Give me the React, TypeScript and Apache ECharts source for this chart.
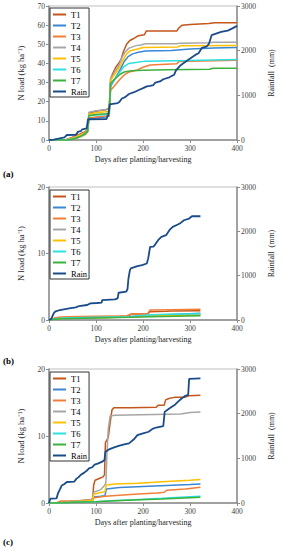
import React, { useEffect, useRef } from "react";
import * as echarts from "echarts";

const NAMES = ["T1", "T2", "T3", "T4", "T5", "T6", "T7", "Rain"];
const COLORS = ["#C4561A", "#3A87D4", "#F07F3A", "#A6A6A6", "#FFC000", "#2EE0E0", "#3CB13C", "#1B4C8A"];
const PANEL_LABELS = ["(a)", "(b)", "(c)"];
const LEFT_MAX = [70, 20, 20];

// Panel (a)
const A_T1 = [[0,0],[35,0],[50,1.5],[65,3],[78,4.5],[82,6],[85,14],[100,15],[120,15.8],[128,16.5],[131,32],[136,35],[142,38],[148,40],[153,42],[158,46],[165,50],[172,52],[180,53],[190,54.5],[203,55],[207,57],[272,57],[276,58.5],[283,60],[300,60.3],[340,60.8],[352,61.2],[400,61.3]];
const A_T2 = [[0,0],[40,0],[55,0.8],[68,2],[78,3.5],[82,4.5],[85,11],[100,11.5],[120,12],[128,12.5],[131,28],[138,31],[145,34],[152,37],[160,41],[168,43.5],[178,45],[190,45.8],[205,46.5],[260,46.8],[300,47.5],[350,48],[400,48.3]];
const A_T3 = [[0,0],[42,0],[55,0.5],[68,1.8],[78,3],[82,4],[85,11.5],[100,12],[120,12.5],[128,13],[131,26],[138,28],[145,30],[152,32],[160,34],[170,35.5],[188,36.6],[200,38],[215,39.2],[272,39.8],[276,41],[350,41.4],[400,41.6]];
const A_T4 = [[0,0],[35,0],[50,1.2],[65,2.5],[78,4],[82,5.5],[85,14.5],[100,15.3],[120,15.8],[128,16.3],[131,32],[136,34],[142,36.5],[148,38.5],[155,43],[162,46],[170,48],[185,49.3],[195,49.6],[205,50.3],[272,50.3],[278,50.6],[340,50.8],[350,51.1],[400,51.1]];
const A_T5 = [[0,0],[38,0],[52,1],[65,2.5],[78,3.8],[82,5],[85,13.5],[100,14.2],[120,14.8],[128,15.2],[131,31],[136,33],[142,35],[150,38],[158,42],[165,45],[172,46.5],[188,47.5],[200,48.3],[274,48.6],[278,49.2],[400,49.4]];
const A_T6 = [[0,0],[40,0],[55,0.8],[68,2],[78,3.5],[82,4.5],[85,12.5],[100,13],[120,13.3],[128,13.8],[131,29],[138,31],[145,33.5],[152,36],[160,38.5],[170,40],[188,40.6],[205,41.2],[300,41.5],[350,41.8],[400,42]];
const A_T7 = [[0,0],[40,0],[55,0.8],[68,2],[78,3.5],[82,4.5],[85,12.8],[100,13.3],[120,13.7],[128,14],[131,29.5],[138,31.5],[145,33],[152,34.5],[160,35.5],[175,36.2],[200,36.5],[250,36.7],[342,37],[348,37.5],[400,37.5]];
const A_RAIN = [[0,0],[10,10],[20,30],[33,60],[38,112],[57,115],[62,187],[68,200],[71,240],[80,258],[83,465],[122,470],[126,560],[129,800],[146,826],[150,858],[155,930],[162,960],[170,1030],[181,1070],[191,1119],[200,1160],[208,1200],[215,1213],[222,1231],[226,1285],[236,1310],[243,1360],[256,1403],[266,1460],[270,1560],[280,1675],[291,1757],[301,1830],[311,1905],[318,1943],[325,2060],[335,2089],[340,2150],[346,2350],[366,2420],[380,2450],[390,2500],[400,2555]];

// Panel (b)
const B_T1 = [[0,0],[10,0.2],[20,0.35],[40,0.45],[100,0.5],[150,0.55],[170,0.6],[175,0.9],[210,0.95],[215,1.25],[250,1.3],[260,1.35],[322,1.4]];
const B_T2 = [[0,0],[10,0.15],[30,0.3],[100,0.4],[170,0.5],[210,0.7],[250,0.8],[322,1.0]];
const B_T3 = [[0,0],[10,0.25],[20,0.4],[40,0.5],[100,0.55],[165,0.6],[172,0.85],[210,0.95],[215,1.5],[260,1.55],[322,1.6]];
const B_T4 = [[0,0],[10,0.1],[30,0.25],[100,0.35],[170,0.45],[215,0.6],[322,0.8]];
const B_T5 = [[0,0],[10,0.1],[30,0.25],[100,0.35],[170,0.45],[215,0.6],[322,0.75]];
const B_T6 = [[0,0],[10,0.15],[30,0.3],[100,0.4],[170,0.5],[210,0.75],[250,0.85],[322,0.95]];
const B_T7 = [[0,0],[10,0.1],[30,0.2],[100,0.3],[170,0.4],[215,0.5],[322,0.65]];
const B_RAIN = [[0,0],[5,30],[10,150],[13,187],[23,225],[43,263],[57,285],[64,315],[81,338],[88,375],[102,383],[112,390],[113,450],[140,465],[146,488],[148,615],[164,638],[167,700],[169,938],[172,1120],[174,1163],[188,1215],[198,1238],[208,1275],[211,1390],[215,1650],[222,1655],[225,1690],[232,1800],[239,1875],[249,1913],[256,2025],[263,2100],[274,2153],[280,2190],[287,2250],[298,2288],[304,2340],[322,2340]];

// Panel (c)
const C_T1 = [[0,0],[20,0],[35,0.2],[60,0.3],[90,0.5],[93,0.7],[95,2.7],[98,3.4],[108,3.7],[115,3.9],[118,4.2],[120,9],[126,9.8],[130,12],[134,13.9],[138,14.2],[173,14.2],[228,14.3],[232,14.6],[245,14.6],[248,15.4],[255,15.6],[269,15.8],[290,15.8],[297,16.0],[322,16.1]];
const C_T2 = [[0,0],[30,0],[50,0.15],[80,0.25],[93,0.35],[95,0.9],[110,1.0],[119,1.1],[122,2.1],[150,2.3],[200,2.45],[250,2.6],[300,2.75],[322,2.85]];
const C_T3 = [[0,0],[15,0],[25,0.3],[60,0.35],[93,0.45],[96,0.8],[120,1.0],[150,1.15],[190,1.35],[230,1.5],[245,1.6],[250,1.9],[290,2.1],[322,2.35]];
const C_T4 = [[0,0],[25,0],[40,0.2],[70,0.3],[92,0.5],[95,1.6],[110,2],[118,2.6],[121,3],[123,7],[126,11],[130,13],[140,13.1],[280,13.3],[300,13.5],[322,13.6]];
const C_T5 = [[0,0],[30,0],[50,0.2],[80,0.3],[93,0.4],[95,1.3],[105,1.5],[119,1.7],[122,2.7],[140,2.85],[190,2.95],[250,3.2],[300,3.4],[322,3.5]];
const C_T6 = [[0,0],[30,0],[50,0.1],[100,0.2],[130,0.35],[180,0.5],[240,0.7],[300,0.95],[322,1.0]];
const C_T7 = [[0,0],[30,0],[50,0.1],[100,0.2],[130,0.3],[180,0.45],[240,0.6],[300,0.8],[322,0.85]];
const C_RAIN = [[0,0],[3,100],[16,103],[19,215],[23,300],[27,390],[32,420],[38,470],[54,480],[58,540],[63,580],[67,625],[75,680],[80,720],[85,775],[92,800],[97,860],[105,886],[112,920],[118,960],[120,1148],[129,1208],[140,1250],[150,1283],[160,1310],[170,1335],[180,1420],[188,1520],[200,1560],[212,1595],[220,1660],[228,1690],[243,1720],[246,2040],[255,2110],[262,2160],[268,2200],[275,2275],[282,2340],[290,2400],[296,2420],[298,2780],[322,2790]];

const PANELS = [
  [A_T1, A_T2, A_T3, A_T4, A_T5, A_T6, A_T7, A_RAIN],
  [B_T1, B_T2, B_T3, B_T4, B_T5, B_T6, B_T7, B_RAIN],
  [C_T1, C_T2, C_T3, C_T4, C_T5, C_T6, C_T7, C_RAIN],
];

const FONT = "Liberation Serif, Times New Roman, serif";
const GRID_TOPS = [6, 187, 369];
const GRID_HEIGHTS = [134, 133, 134];
const LEGEND_TOPS = [8, 190, 372];
const LABEL_TOPS = [169, 356, 537];

export default function App() {
  const ref = useRef<HTMLDivElement>(null);
  useEffect(() => {
    if (!ref.current) return;
    const chart = echarts.init(ref.current, undefined, { renderer: "svg" });
    const axisLine = { show: true, lineStyle: { color: "#8C8C8C", width: 1.5 } };
    const axisLabel = { fontSize: 7.5, color: "#404040", fontFamily: FONT, formatter: (v: number) => String(v) };
    const nameStyle = { fontSize: 8, color: "#262626", fontFamily: FONT };
    const grid: any[] = [];
    const xAxis: any[] = [];
    const yAxis: any[] = [];
    const legend: any[] = [];
    const series: any[] = [];
    const graphic: any[] = [];
    for (let p = 0; p < 3; p++) {
      grid.push({ left: 49, width: 194, top: GRID_TOPS[p], height: GRID_HEIGHTS[p], show: true, borderColor: "#BFBFBF", borderWidth: 1 });
      xAxis.push({
        type: "value", gridIndex: p, min: 0, max: 400, interval: 100,
        axisLine, axisTick: { show: true, inside: false, length: 3, lineStyle: { color: "#8C8C8C" } },
        axisLabel: { ...axisLabel, margin: 4 }, splitLine: { show: false },
        name: "Days after planting/harvesting", nameLocation: "middle", nameGap: 15, nameTextStyle: nameStyle,
      });
      yAxis.push({
        type: "value", gridIndex: p, position: "left", min: 0, max: LEFT_MAX[p], interval: 10,
        axisLine, axisTick: { show: true, length: 3, lineStyle: { color: "#8C8C8C" } },
        axisLabel: { ...axisLabel, margin: 4 }, splitLine: { show: false },
        name: "N load (kg ha⁻¹)", nameLocation: "middle", nameRotate: 90, nameGap: 24, nameTextStyle: { ...nameStyle, fontSize: 8.5 },
      });
      yAxis.push({
        type: "value", gridIndex: p, position: "right", min: 0, max: 3000, interval: 1000,
        axisLine, axisTick: { show: true, length: 3, lineStyle: { color: "#8C8C8C" } },
        axisLabel: { ...axisLabel, margin: 4 }, splitLine: { show: false },
        name: "Rainfall  (mm)", nameLocation: "middle", nameRotate: 90, nameGap: 27, nameTextStyle: nameStyle,
      });
      legend.push({
        orient: "vertical", left: 50, top: LEGEND_TOPS[p], data: NAMES,
        icon: "rect", itemWidth: 13, itemHeight: 2, itemGap: 0,
        padding: [1, 2, 0, 3], borderColor: "#333", borderWidth: 1, backgroundColor: "#fff",
        textStyle: { fontSize: 8.5, lineHeight: 11, color: "#000", fontFamily: FONT },
        selectedMode: false,
      });
      PANELS[p].forEach((data, i) => {
        const isRain = i === 7;
        series.push({
          name: NAMES[i], type: "line", xAxisIndex: p, yAxisIndex: p * 2 + (isRain ? 1 : 0),
          data, showSymbol: false, symbol: "none",
          lineStyle: { color: COLORS[i], width: isRain ? 1.8 : 1.5 },
          itemStyle: { color: COLORS[i] },
          z: isRain ? 3 : 2,
        });
      });
      graphic.push({
        type: "text", left: 3, top: LABEL_TOPS[p],
        style: { text: PANEL_LABELS[p], fontSize: 9, fontWeight: "bold", fontFamily: FONT, fill: "#000" },
      });
    }
    chart.setOption({ animation: false, backgroundColor: "#fff", grid, xAxis, yAxis, legend, series, graphic });
    return () => chart.dispose();
  }, []);
  return <div ref={ref} style={{ position: "fixed", left: 0, top: 0, width: 283, height: 550 }} />;
}
